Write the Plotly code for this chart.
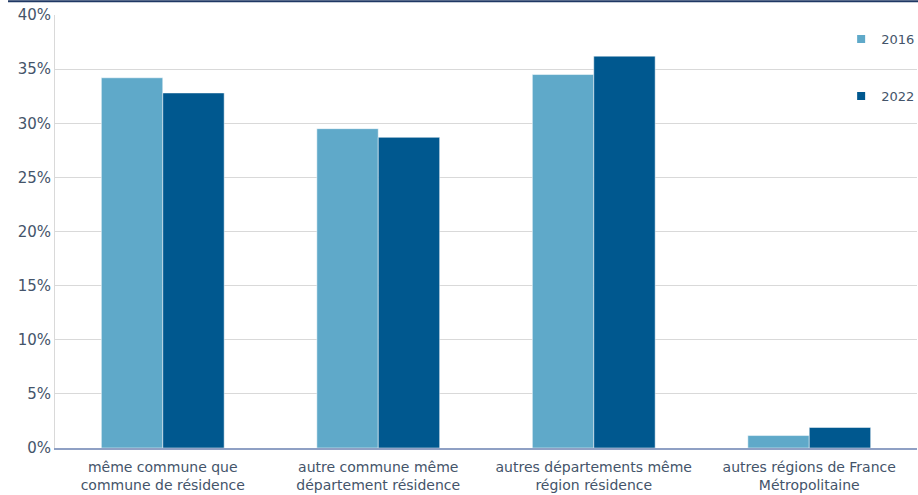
import plotly.graph_objects as go

categories = ["même commune que<br>commune de résidence",
              "autre commune même<br>département résidence",
              "autres départements même<br>région résidence",
              "autres régions de France<br>Métropolitaine"]
years = ["2016", "2022"]
values_2016 = [34.2, 29.5, 34.5, 1.15]
values_2022 = [32.8, 28.7, 36.2, 1.9]

COLOR_2016 = "#5fa9c9"
COLOR_2022 = "#00588f"
TEXT = "#44546a"

fig = go.Figure()
for nom, vals, col in [(years[0], values_2016, COLOR_2016), (years[1], values_2022, COLOR_2022)]:
    fig.add_trace(go.Bar(x=categories, y=vals, name=nom, marker_color=col,
                         marker_line=dict(color="rgba(255,255,255,0.5)", width=1),
                         showlegend=False))
    # entrée de légende avec un petit carré
    fig.add_trace(go.Scatter(x=[None], y=[None], mode="markers", name=nom,
                             marker=dict(symbol="square", size=8, color=col),
                             legendgroup=nom))

# trait de titre en haut
fig.add_shape(type="line", xref="paper", yref="paper",
              x0=-0.0545, x1=1.01, y0=1.032, y1=1.032,
              line=dict(color="#1f3864", width=2))

fig.update_layout(
    width=918, height=495,
    margin=dict(l=55, r=1, t=15, b=47, autoexpand=False),
    plot_bgcolor="white", paper_bgcolor="white",
    font=dict(family="DejaVu Sans, Verdana", size=14, color=TEXT),
    barmode="group", bargap=0.43, bargroupgap=0,
    legend=dict(x=0.912, y=0.979, xanchor="left", yanchor="top",
                tracegroupgap=37, font=dict(size=13, color=TEXT),
                bgcolor="rgba(0,0,0,0)"),
    xaxis=dict(showline=True, linecolor="#8fa0c4", linewidth=1.5,
               ticks="", ticklabelstandoff=5, tickfont=dict(size=14, color=TEXT)),
    yaxis=dict(range=[0, 40], dtick=5, ticksuffix="%",
               showgrid=True, gridcolor="#d9d9d9", gridwidth=1,
               showline=True, linecolor="#d9d9d9", linewidth=1,
               zeroline=False, ticks="", tickfont=dict(size=15, color=TEXT)),
)

fig.write_html("out.html", config={"displayModeBar": False},
               post_script="document.body.style.margin='0';")
